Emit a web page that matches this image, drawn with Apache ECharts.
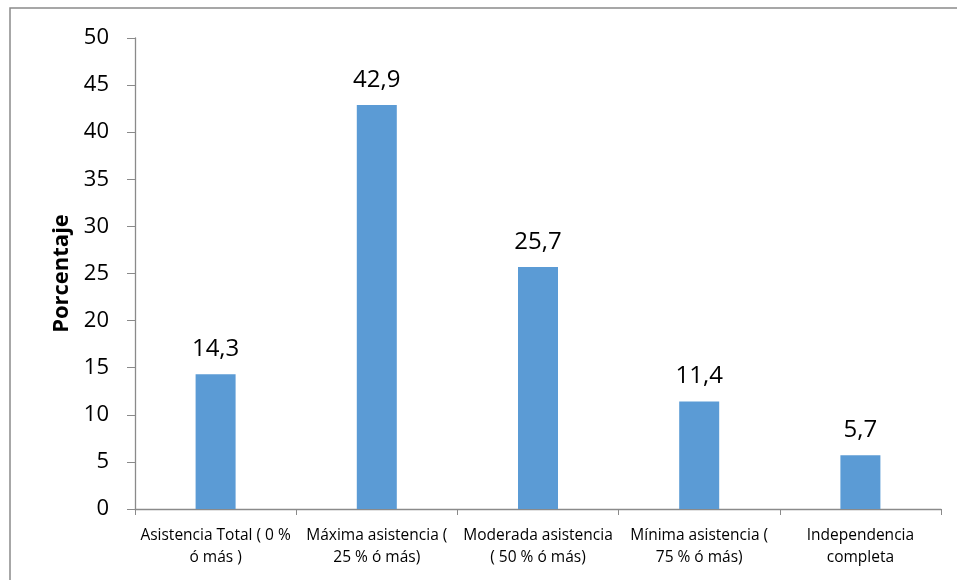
<!DOCTYPE html>
<html>
<head>
<meta charset="utf-8">
<script src="https://cdn.jsdelivr.net/npm/echarts@6/dist/echarts.min.js"></script>
<style>
  html, body { margin: 0; padding: 0; background: #fff; }
  #chart { width: 957px; height: 580px; }
</style>
</head>
<body>
<div id="chart"></div>
<script>
// Nivel de asistencia requerido (porcentaje de pacientes)
const categories = [
  'Asistencia Total ( 0 %\nó más )',
  'Máxima asistencia (\n25 % ó más)',
  'Moderada asistencia\n( 50 % ó más)',
  'Mínima asistencia (\n75 % ó más)',
  'Independencia\ncompleta'
];
const values = [14.3, 42.9, 25.7, 11.4, 5.7];
const yTicks = { min: 0, max: 50, interval: 5 };

const FONT = '"Open Sans", sans-serif';
const chart = echarts.init(document.getElementById('chart'));

chart.setOption({
  animation: false,
  backgroundColor: '#ffffff',
  graphic: [{
    type: 'rect',
    shape: { x: 10, y: 8, width: 960, height: 600 },
    style: { fill: 'none', stroke: '#8a8a8a', lineWidth: 1.5 },
    silent: true
  }],
  grid: { left: 135, right: 16, top: 38, bottom: 71 },
  xAxis: {
    type: 'category',
    data: categories,
    axisLine: { lineStyle: { color: '#8a8a8a', width: 1.3 } },
    axisTick: { show: true, length: 6, alignWithLabel: false, lineStyle: { color: '#8a8a8a' } },
    axisLabel: {
      color: '#000', fontFamily: FONT, fontSize: 15.5, lineHeight: 22,
      margin: 16, interval: 0
    }
  },
  yAxis: {
    type: 'value',
    min: yTicks.min, max: yTicks.max, interval: yTicks.interval,
    name: 'Porcentaje',
    nameLocation: 'middle',
    nameGap: 62,
    nameTextStyle: { color: '#000', fontFamily: FONT, fontSize: 22, fontWeight: 'bold' },
    axisLine: { show: true, lineStyle: { color: '#8a8a8a', width: 1.3 } },
    axisTick: { show: true, length: 8, lineStyle: { color: '#8a8a8a' } },
    splitLine: { show: false },
    axisLabel: { color: '#000', fontFamily: FONT, fontSize: 22, margin: 26 }
  },
  series: [{
    type: 'bar',
    data: values,
    barWidth: 40,
    itemStyle: { color: '#5b9bd5' },
    label: {
      show: true,
      position: 'top',
      distance: 13,
      color: '#000',
      fontFamily: FONT,
      fontSize: 24,
      formatter: p => String(p.value).replace('.', ',')
    }
  }]
});
</script>
</body>
</html>
